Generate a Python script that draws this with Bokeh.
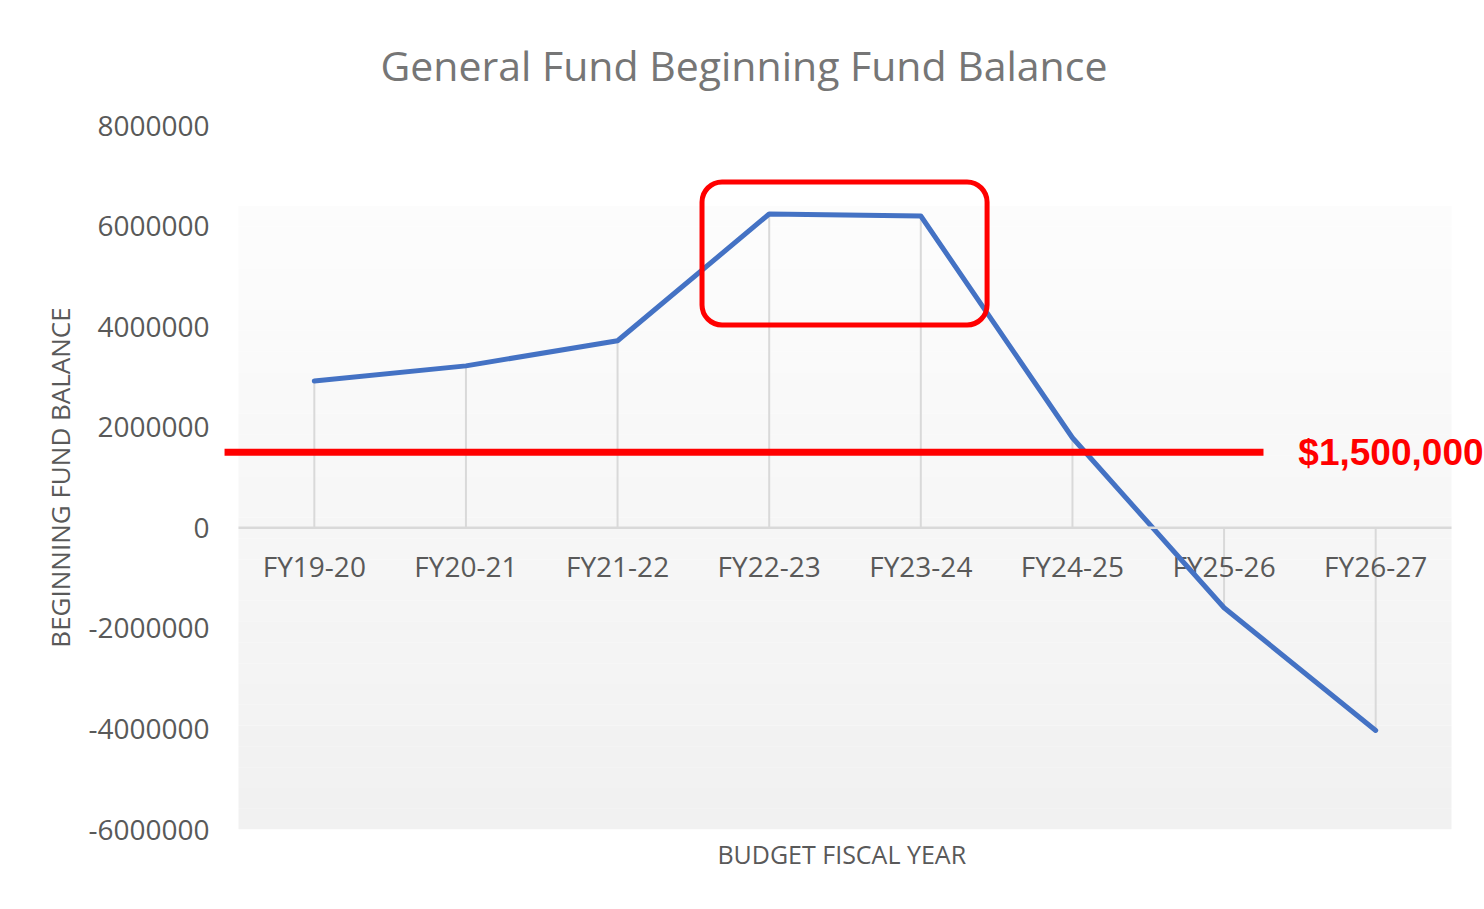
from bokeh.plotting import figure
from bokeh.models import (FactorRange, Range1d, FixedTicker, PrintfTickFormatter,
                          BoxAnnotation, Label, Arrow, ColumnDataSource, Title)
from bokeh.core.properties import value
from bokeh.embed import file_html
from bokeh.resources import INLINE

# ---- data ----
years = ["FY19-20", "FY20-21", "FY21-22", "FY22-23", "FY23-24", "FY24-25", "FY25-26", "FY26-27"]
balance = [2920000, 3220000, 3720000, 6240000, 6200000, 1790000, -1590000, -4030000]
threshold = 1500000
threshold_label = "$1,500,000"
y_ticks = [-6000000, -4000000, -2000000, 0, 2000000, 4000000, 6000000, 8000000]
title_text = "General  Fund  Beginning  Fund  Balance"
x_title = "BUDGET  FISCAL YEAR"
y_title = "BEGINNING FUND BALANCE"

FONT = "Open Sans"
GRAY = "#595959"
n = len(years)

# frame is widened symmetrically so that the right-hand label is not clipped
pad = 33 / 151.625
p = figure(width=1484, height=909,
           x_range=FactorRange(*years, range_padding=pad, range_padding_units="absolute"),
           y_range=Range1d(y_ticks[0], y_ticks[-1]),
           output_backend="svg", toolbar_location=None,
           min_border_left=205, min_border_right=0, min_border_top=125, min_border_bottom=80)
p.outline_line_color = None
p.background_fill_color = "white"
p.border_fill_color = "white"
p.xgrid.grid_line_color = None
p.ygrid.grid_line_color = None

# title
p.title.text = title_text
p.title.text_font = FONT
p.title.text_font_size = "41px"
p.title.text_font_style = "normal"
p.title.text_color = "#767676"
p.title.align = "left"
p.title.offset = 175
p.title.vertical_align = "bottom"
p.title.standoff = 66

# gradient plot-area background (styling)
n_bands = 30
g_bottom, g_top = y_ticks[0], 6400000
for i in range(n_bands):
    b = g_bottom + (g_top - g_bottom) * i / n_bands
    t = g_bottom + (g_top - g_bottom) * (i + 1) / n_bands
    c = int(241 + (253 - 241) * (i + 0.5) / n_bands)
    p.add_layout(BoxAnnotation(left=0, right=n, bottom=b, top=t, fill_color=(c, c, c),
                               fill_alpha=1.0, line_color=None, level="underlay"))

# y axis
p.yaxis.ticker = FixedTicker(ticks=y_ticks)
p.yaxis.formatter = PrintfTickFormatter(format="%d")
p.yaxis.axis_line_color = None
p.yaxis.major_tick_line_color = None
p.yaxis.minor_tick_line_color = None
p.yaxis.major_tick_out = 0
p.yaxis.major_tick_in = 0
p.yaxis.minor_tick_out = 0
p.yaxis.major_label_text_font = FONT
p.yaxis.major_label_text_font_size = "28px"
p.yaxis.major_label_text_color = GRAY
p.yaxis.major_label_standoff = -4
p.yaxis.axis_label = y_title
p.yaxis.axis_label_text_font = FONT
p.yaxis.axis_label_text_font_size = "26px"
p.yaxis.axis_label_text_font_style = "normal"
p.yaxis.axis_label_text_color = GRAY
p.yaxis.axis_label_standoff = 7

# x axis: category labels are drawn along the zero line; axis title below the plot
p.xaxis.visible = False
p.add_layout(Title(text=x_title, align="center", text_font=FONT, text_font_size="25px",
                   text_font_style="normal", text_color=GRAY, standoff=10), "below")

# zero line across the plot area
p.add_layout(Arrow(end=None, x_start=0, y_start=0, x_end=n, y_end=0,
                   line_color="#d9d9d9", line_width=2.5))

src = ColumnDataSource(dict(year=years, bal=balance, zero=[0] * n))

# drop lines
p.segment(x0="year", y0="zero", x1="year", y1="bal", source=src,
          line_color="#d9d9d9", line_width=2)

# category labels along the zero line
p.text(x="year", y="zero", text="year", source=src, text_font=value(FONT),
       text_font_size="28px", text_color=GRAY, text_align="center",
       text_baseline="middle", y_offset=38)

# series line
p.line(x="year", y="bal", source=src, line_color="#4472c4", line_width=5,
       line_join="round", line_cap="round")

# threshold line and label
p.add_layout(Arrow(end=None, x_start=-0.092, y_start=threshold, x_end=6.76, y_end=threshold,
                   line_color="#ff0000", line_width=7))
p.add_layout(Label(x=6.99, y=threshold, text=threshold_label, text_font="Liberation Sans",
                   text_font_size="37px", text_font_style="bold", text_color="#ff0000",
                   text_baseline="middle", text_align="left"))

# highlight box
p.add_layout(BoxAnnotation(left=3.057, right=4.937, top=6876000, bottom=4033000,
                           fill_alpha=0, line_color="#ff0000", line_alpha=1.0,
                           line_width=5, border_radius=20))

open("out.html", "w").write(file_html(p, INLINE))
